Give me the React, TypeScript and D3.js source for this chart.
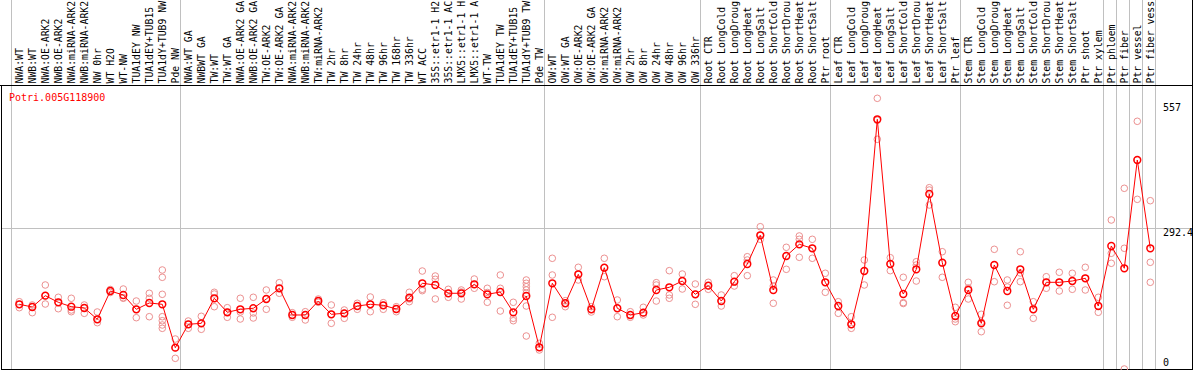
import React from 'react';
import * as d3 from 'd3';

const geneName = 'Potri.005G118900';

const labels: string[] = [
  'NWA:WT', 'NWB:WT', 'NWA:OE-ARK2', 'NWB:OE-ARK2', 'NWA:miRNA-ARK2', 'NWB:miRNA-ARK2',
  'NW 0hr', 'WT H2O', 'WT-NW', 'TUA1dEY NW', 'TUA1dEY+TUB15 NW', 'TUA1dY+TUB9 NW', 'Pde NW',
  'NWA:WT GA', 'NWBWT GA', 'TW:WT', 'TW:WT GA', 'NWA:OE-ARK2 GA', 'NWB:OE-ARK2 GA',
  'TW:OE-ARK2', 'TW:OE-ARK2 GA', 'NWA:miRNA-ARK2 GA', 'NWB:miRNA-ARK2 GA', 'TW:miRNA-ARK2',
  'TW 2hr', 'TW 8hr', 'TW 24hr', 'TW 48hr', 'TW 96hr', 'TW 168hr', 'TW 336hr', 'WT ACC',
  '35S::etr1-1 H2O', '35S::etr1-1 ACC', 'LMX5::etr1-1 H2O', 'LMX5::etr1-1 ACC', 'WT-TW',
  'TUA1dEY TW', 'TUA1dEY+TUB15 TW', 'TUA1dY+TUB9 TW', 'Pde TW',
  'OW:WT', 'OW:WT GA', 'OW:OE-ARK2', 'OW:OE-ARK2 GA', 'OW:miRNA-ARK2', 'OW:miRNA-ARK2 GA',
  'OW 2hr', 'OW 8hr', 'OW 24hr', 'OW 48hr', 'OW 96hr', 'OW 336hr',
  'Root CTR', 'Root LongCold', 'Root LongDrought', 'Root LongHeat', 'Root LongSalt',
  'Root ShortCold', 'Root ShortDrought', 'Root ShortHeat', 'Root ShortSalt', 'Ptr root',
  'Leaf CTR', 'Leaf LongCold', 'Leaf LongDrought', 'Leaf LongHeat', 'Leaf LongSalt',
  'Leaf ShortCold', 'Leaf ShortDrought', 'Leaf ShortHeat', 'Leaf ShortSalt', 'Ptr leaf',
  'Stem CTR', 'Stem LongCold', 'Stem LongDrought', 'Stem LongHeat', 'Stem LongSalt',
  'Stem ShortCold', 'Stem ShortDrought', 'Stem ShortHeat', 'Stem ShortSalt', 'Ptr shoot',
  'Ptr xylem', 'Ptr phloem', 'Ptr fiber', 'Ptr vessel', 'Ptr fiber vessel',
];

const means: number[] = [
  137.1, 131.6, 154.7, 141.2, 132.2, 129.6, 106.5, 164.2, 156.1, 126.9, 139.8, 137.1, 48.6,
  96.3, 98.3, 149.4, 120.8, 126.9, 129.0, 147.9, 169.8, 115.3, 115.3, 143.8, 116.7, 118.7,
  133.6, 137.1, 135.1, 127.5, 150.6, 180.0, 176.5, 159.6, 159.6, 177.9, 157.5, 162.2, 120.8,
  154.0, 49.4,
  180.0, 139.2, 198.3, 126.9, 211.8, 129.0, 115.3, 120.0, 166.3, 171.8, 184.6, 157.5,
  175.1, 143.8, 183.2, 219.3, 277.9, 166.3, 235.7, 259.5, 251.4, 182.0,
  133.6, 96.3, 205.0, 514.6, 219.3, 158.1, 208.5, 362.2, 222.0, 113.2,
  166.3, 98.3, 217.3, 164.2, 208.5, 126.9, 182.0, 182.0, 184.6, 190.2, 133.6,
  256.1, 210.6, 431.5, 251.4,
];

const replicates: number[][] = [
  [142.4, 137.1, 130.2], [135.7, 131.6, 120.0], [176.5, 154.7, 137.7], [151.4, 141.2, 128.1],
  [149.4, 125.5, 122.0], [135.7, 129.6, 118.7], [121.4, 106.5, 99.6], [167.3, 164.2, 161.2],
  [168.3, 150.6, 149.4], [143.8, 126.9, 109.8], [159.6, 149.4, 111.8],
  [207.1, 192.2, 157.5, 111.8, 103.6, 94.9, 88.1], [66.3, 48.6, 26.9],
  [103.0, 96.3, 88.1], [112.6, 98.3, 86.1], [161.6, 158.1, 132.2], [130.2, 120.8, 110.6],
  [149.4, 121.4, 107.1], [151.4, 119.4, 109.2], [166.3, 147.9, 126.9], [181.2, 169.8, 159.6],
  [120.0, 115.3, 110.6], [122.0, 115.3, 105.1], [147.9, 143.8, 141.2], [135.7, 116.7, 98.3],
  [125.5, 118.7, 108.5], [139.2, 133.6, 126.9], [152.0, 137.1, 122.0], [140.4, 135.1, 126.9],
  [132.2, 127.5, 122.0], [161.6, 147.9, 142.4], [205.0, 167.7, 164.9], [194.8, 188.1, 147.9],
  [167.7, 159.6, 151.4], [166.3, 162.2, 147.9], [188.7, 177.9, 169.8], [169.8, 161.2, 141.2],
  [196.9, 169.8, 123.4], [141.2, 108.5, 103.6],
  [186.7, 180.0, 173.0, 166.3, 159.6, 133.6, 72.4], [57.5, 49.4, 43.9],
  [231.0, 196.9, 110.6], [144.5, 139.2, 132.2], [212.6, 198.3, 186.7], [132.2, 126.9, 121.4],
  [231.0, 211.8, 193.4], [145.9, 129.0, 111.8], [122.0, 115.3, 110.6], [131.0, 120.0, 115.3],
  [181.2, 176.5, 143.8], [205.7, 156.1, 149.4], [198.9, 184.6, 168.3], [178.5, 157.5, 137.1],
  [182.0, 175.1, 167.7], [156.1, 143.8, 133.6], [195.5, 183.2, 174.4], [234.2, 227.5, 195.5],
  [295.4, 277.9, 269.7], [186.7, 174.4, 139.2], [253.4, 235.7, 208.5], [276.5, 269.7, 233.0],
  [269.7, 251.4, 231.0], [200.4, 182.0, 161.6],
  [142.4, 133.6, 118.7], [111.8, 96.3, 88.1], [227.5, 205.0, 176.5], [557.4, 512.6, 473.8],
  [232.2, 219.3, 205.7], [192.2, 140.4, 138.7], [224.0, 217.3, 184.6], [375.0, 370.3, 339.7],
  [244.4, 222.0, 192.2], [131.0, 107.1, 101.6],
  [182.0, 170.4, 147.9], [116.7, 101.0, 81.2], [249.3, 217.3, 183.2], [186.7, 172.4, 135.1],
  [244.4, 201.0, 183.2], [142.4, 126.9, 108.5], [193.4, 182.0, 169.8], [202.4, 182.0, 164.2],
  [200.4, 184.6, 167.7], [212.6, 190.2, 166.3], [151.4, 133.6, 120.8],
  [309.1, 241.2, 220.8], [373.8, 251.4, 5.1], [510.5, 431.5, 351.3], [348.5, 222.8, 182.0],
];

const groupStarts: number[] = [0, 13, 41, 53, 63, 73, 84, 85, 86, 87, 88];
const yMax = 557;
const yMid = 292.4;
const maxLabelChars = 14;

const FONT = '"DejaVu Sans Mono", "Liberation Mono", monospace';

export default function App() {
  const W = 1194;
  const H = 370;
  const n = labels.length;
  const step = 13;
  const left = 11;

  const x = d3.scaleBand<number>().domain(d3.range(n)).range([left, left + n * step]);
  const px = (i: number) => (x(i) as number) + 8.3;
  const edge = (k: number) => left + k * x.step() + 0.5;
  const y = d3.scaleLinear().domain([0, yMax]).range([371.5, 98.5]);

  const line = d3.line<number>().x((_, i) => px(i)).y((d) => y(d));

  const gridY = Math.round(y(yMid)) + 0.5;

  return (
    <div style={{ position: 'absolute', left: 0, top: 0 }}>
      <svg width={W} height={H} style={{ display: 'block' }}>
        <rect x={0} y={0} width={W} height={H} fill="#fff" />
        {groupStarts.map((k) => (
          <line key={'g' + k} x1={edge(k)} x2={edge(k)} y1={0} y2={369} stroke="#c0c0c0" strokeWidth={1} />
        ))}
        <line x1={2} x2={1192} y1={gridY} y2={gridY} stroke="#c0c0c0" strokeWidth={1} />
        <line x1={0} x2={1193} y1={85.5} y2={85.5} stroke="#000" strokeWidth={1} />
        <line x1={1.5} x2={1.5} y1={85.5} y2={369.5} stroke="#000" strokeWidth={1} />
        <line x1={1192.5} x2={1192.5} y1={0} y2={369.5} stroke="#000" strokeWidth={1} />
        <line x1={1} x2={1193} y1={369.5} y2={369.5} stroke="#000" strokeWidth={1} />

        {labels.map((l, i) => (
          <text
            key={'l' + i}
            transform={`translate(${px(i)},83.5) rotate(-90)`}
            dy="0.35em"
            fontFamily={FONT}
            fontSize={9.8}
            fill="#000"
          >
            {l.slice(0, maxLabelChars).trimEnd()}
          </text>
        ))}

        <text x={9} y={100.5} fontFamily={FONT} fontSize={10} fill="#ff0000">
          {geneName}
        </text>

        <text x={1163} y={y(yMax) + 12} fontFamily={FONT} fontSize={10} fill="#000">{String(yMax)}</text>
        <text x={1163} y={y(yMid) + 8} fontFamily={FONT} fontSize={10} fill="#000">{String(yMid)}</text>
        <text x={1163} y={y(0) - 5.5} fontFamily={FONT} fontSize={10} fill="#000">0</text>

        {replicates.map((arr, i) =>
          arr.map((v, j) => (
            <circle key={`r${i}-${j}`} cx={px(i)} cy={y(v)} r={3.3} fill="none" stroke="#ec9090" strokeWidth={1} />
          ))
        )}

        <path d={line(means) || ''} fill="none" stroke="#ff0000" strokeWidth={1} />
        {means.map((v, i) => (
          <circle key={'m' + i} cx={px(i)} cy={y(v)} r={3.4} fill="none" stroke="#ff0000" strokeWidth={1.5} />
        ))}
      </svg>
    </div>
  );
}
